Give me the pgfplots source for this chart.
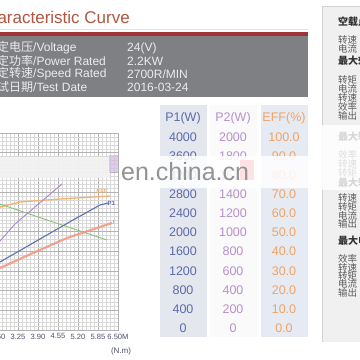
\documentclass[border=0pt]{standalone}
\usepackage{fontspec}
\setmainfont{Liberation Sans}
\newfontfamily\cjk{Noto Sans CJK SC}
\usepackage{pgfplots}
\pgfplotsset{compat=1.18}
\definecolor{titlered}{RGB}{178,86,66}
\definecolor{bandred}{RGB}{160,52,56}
\definecolor{boxgray}{RGB}{127,128,132}
\definecolor{boxtext}{RGB}{236,236,238}
\definecolor{colA}{RGB}{228,231,238}
\definecolor{colC}{RGB}{230,234,242}
\definecolor{pone}{RGB}{92,106,172}
\definecolor{ptwo}{RGB}{184,144,204}
\definecolor{effc}{RGB}{240,164,100}
\definecolor{cblue}{RGB}{96,112,176}
\definecolor{csalmon}{RGB}{242,150,128}
\definecolor{cgreen}{RGB}{140,190,120}
\definecolor{cpurple}{RGB}{176,140,208}
\definecolor{corange}{RGB}{245,176,110}
\definecolor{ticklab}{RGB}{80,80,112}
\definecolor{paneltext}{RGB}{90,90,90}
\newcommand\fs[1]{\fontsize{#1}{#1}\selectfont}
\begin{document}
\begin{tikzpicture}[x=1pt,y=1pt]
\useasboundingbox (0,0) rectangle (360,360);
\clip (0,0) rectangle (360,360);
\fill[white] (0,0) rectangle (360,360);
% ---- header ----
\node[anchor=base east, inner sep=0, text=titlered, font=\fs{17}] at (130,337) {Characteristic Curve};
\draw[gray!22, line width=1pt] (0,331) -- (308,331);
\fill[bandred] (0,324) rectangle (308,328);
\fill[boxgray] (0,263) rectangle (308,324);
\begin{scope}[every node/.style={anchor=west, inner sep=0, text=boxtext, font=\fs{12}}]
\node at (-15,312) {{\cjk 额定电压}/Voltage};
\node at (-15,299) {{\cjk 额定功率}/Power Rated};
\node at (-15,286) {{\cjk 额定转速}/Speed Rated};
\node at (-15,273) {{\cjk 测试日期}/Test Date};
\node at (127,312) {24(V)};
\node at (127,299) {2.2KW};
\node at (127,286) {2700R/MIN};
\node at (127,273) {2016-03-24};
\end{scope}
% ---- right panel ----
\fill[gray!12] (322,18) rectangle (362,354);
\draw[gray!35, line width=0.6pt] (322,18) -- (322,354) -- (362,354);
\begin{scope}[every node/.style={anchor=west, inner sep=0, text=paneltext, font=\fs{9.5}\cjk}]
\node[text=black!80, font=\fs{10}\cjk\bfseries] at (338,338) {空载点};
\node at (338,320) {转速};
\node at (338,311) {电流};
\node[text=black!80, font=\fs{10}\cjk\bfseries] at (338,299) {最大效率};
\node at (338,280) {转矩};
\node at (338,271) {电流};
\node at (338,262) {转速};
\node at (338,253) {效率};
\node at (338,244) {输出};
\node[text=black!80, font=\fs{10}\cjk\bfseries] at (338,223) {最大输出};
\node at (338,205) {效率};
\node at (338,196) {转速};
\node at (338,187) {转矩};
\node[text=black!80, font=\fs{10}\cjk\bfseries] at (338,177) {最大转矩};
\node at (338,162) {转速};
\node at (338,153) {转矩};
\node at (338,144) {电流};
\node at (338,136) {输出};
\node[text=black!80, font=\fs{10}\cjk\bfseries] at (338,119) {最大电流};
\node at (338,101) {效率};
\node at (338,92) {转速};
\node at (338,84) {转矩};
\node at (338,76) {电流};
\node at (338,67) {输出};
\end{scope}
% ---- table ----
\fill[colA] (160,23) rectangle (207,255);
\fill[gray!4] (210,23) rectangle (257,255);
\fill[colC] (261,23) rectangle (308,255);
\begin{scope}[every node/.style={inner sep=0, font=\fs{12.5}}]
\node[text=pone] at (183,242) {P1(W)};
\node[text=ptwo] at (233,242) {P2(W)};
\node[text=effc] at (284,242) {EFF(\%)};
\foreach \k/\p/\q/\e in {0/4000/2000/100.0,1/3600/1800/90.0,2/3200/1600/80.0,3/2800/1400/70.0,4/2400/1200/60.0,5/2000/1000/50.0,6/1600/800/40.0,7/1200/600/30.0,8/800/400/20.0,9/400/200/10.0,10/0/0/0.0}{
  \pgfmathsetmacro\yy{223-19.1*\k}
  \node[text=pone] at (183,\yy) {\p};
  \node[text=ptwo] at (233,\yy) {\q};
  \node[text=effc] at (284,\yy) {\e};
}
\end{scope}
% ---- chart ----
\begin{axis}[
  at={(-82pt,30pt)}, anchor=south west,
  scale only axis, width=200pt, height=197pt,
  xmin=0, xmax=6.5, ymin=0, ymax=4000,
  xtick={0,0.65,1.3,1.95,2.6,3.25,3.9,4.55,5.2,5.85,6.5},
  xticklabels={0,0.65,1.30,1.95,2.60,3.25,3.90,4.55,5.20,5.85,6.50M},
  ytick={0,400,800,1200,1600,2000,2400,2800,3200,3600,4000},
  yticklabels={},
  minor x tick num=4, minor y tick num=4,
  grid=both,
  major grid style={draw=gray!60, line width=0.45pt},
  minor grid style={draw=gray!30, line width=0.3pt},
  axis line style={draw=gray!60, line width=0.45pt},
  major tick length=0pt, minor tick length=0pt,
  xticklabel style={font=\fs{7.6}, text=ticklab, inner sep=1pt, yshift=-2.5pt},
  /pgf/number format/assume math mode=true,
]
\addplot[corange, line width=1.3pt] coordinates {(2.40,2420) (2.665,2497) (3.315,2599) (4.615,2660) (6.24,2721)};
\addplot[cgreen, line width=0.9pt] coordinates {(2.40,2640) (2.665,2558) (4.193,2234) (6.143,1827)};
\addplot[cblue, line width=1.1pt] coordinates {(2.40,1290) (2.665,1381) (5.04,2234) (5.915,2538) (6.18,2579)};
\addplot[csalmon, line width=2.2pt, opacity=0.85] coordinates {(2.40,1200) (2.665,1259) (3.737,1563) (4.842,1868) (6.305,2173)};
\addplot[cpurple, line width=1pt] coordinates {(2.40,1620) (2.665,1807) (3.152,2152) (4.68,2965)};
\node[text=corange, font=\fs{6}\bfseries] at (axis cs:5.98,2822) {EFF};
\node[text=cblue, font=\fs{6}\bfseries] at (axis cs:6.28,2579) {P1};
\node[text=csalmon, font=\fs{6}\bfseries] at (axis cs:6.36,2180) {I};
\end{axis}
\node[text=ticklab, font=\fs{8}] at (121,9) {(N.m)};
% ---- watermark ----
\fill[gray!10, opacity=0.95] (0,182) rectangle (110,203);
\fill[cpurple!60, opacity=0.7] (109,188) rectangle (118,205);
\fill[white, opacity=0.85] (120,172) rectangle (320,204);
\fill[white, opacity=0.8] (322,170) rectangle (362,235);
\fill[pink!70, opacity=0.6] (240,180) rectangle (254,200);
\node[anchor=base west, inner sep=0, text=gray!85, font=\fs{25}] at (121,180) {en.china.cn};
\end{tikzpicture}
\end{document}
